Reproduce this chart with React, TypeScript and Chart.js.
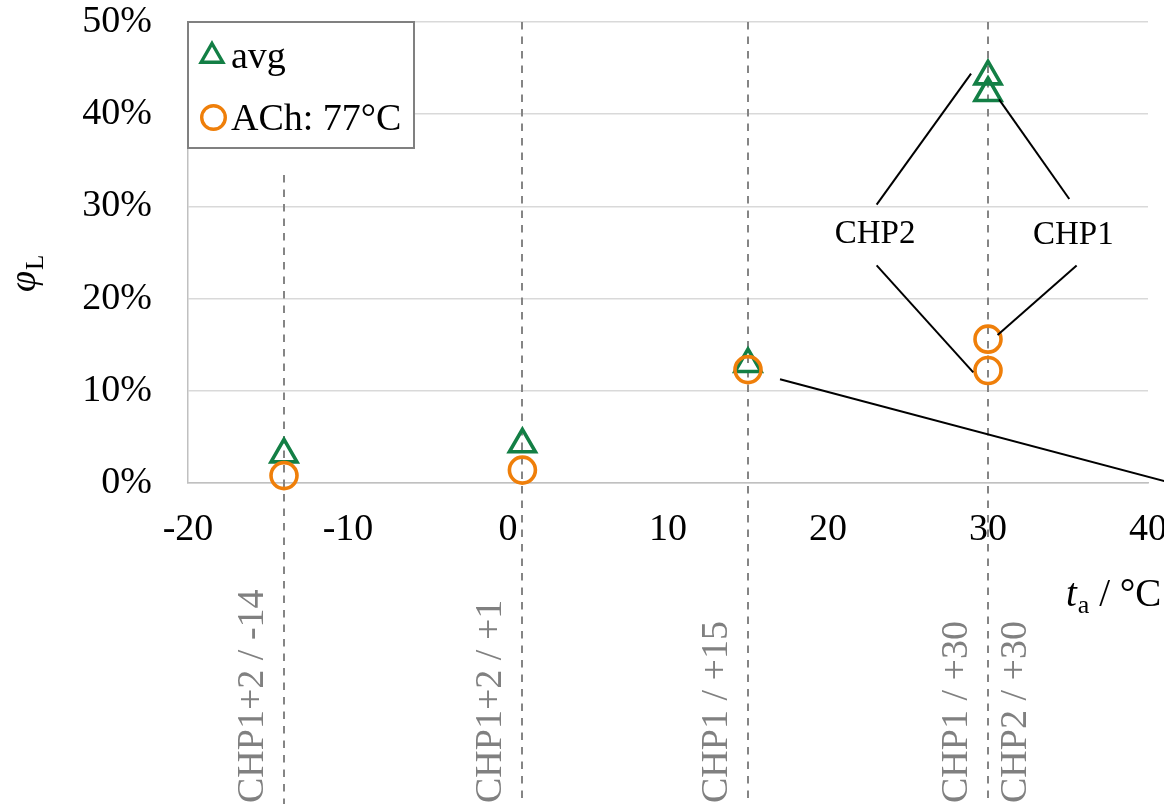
import React, { useEffect, useRef } from 'react';
import { Chart, registerables } from 'chart.js';

Chart.register(...registerables);

const FONT = "'Liberation Serif', 'Times New Roman', serif";
const GREEN = '#137f45';
const ORANGE = '#ef7f0a';
const GUIDE_COLOR = '#858585';
const LABEL_GRAY = '#808080';

// Series data (x = ambient temperature °C, y = φL in %)
const T_AMBIENT = [-14, 0.9, 15, 30, 30];
const AVG_VALUES = [3.1, 4.2, 12.9, 42.3, 44.1];
const ACH_VALUES = [0.8, 1.4, 12.3, 15.6, 12.2];
const SERIES_LABELS = ['avg', 'ACh: 77°C'];

// Axis ranges
const X_MIN = -20;
const X_MAX = 40;
const X_STEP = 10;
const Y_MIN = 0;
const Y_MAX = 50;
const Y_STEP = 10;

// Vertical guide lines (data x) and where they start (data y)
const GUIDE_X = [-14, 0.9, 15, 30];
const GUIDE_TOP = [33.4, 50, 50, 50];

// Rotated guide labels
const GUIDE_LABELS = ['CHP1+2 / -14', 'CHP1+2 / +1', 'CHP1 / +15', 'CHP1 / +30', 'CHP2 / +30'];
const GUIDE_LABEL_X = [-14, 0.9, 15, 30, 30];
const GUIDE_LABEL_SIDE = [-1, -1, -1, -1, 1];

// Leader lines (data coordinates)
const LEADER_X1 = [23.04, 35.08, 23.04, 35.54, 17.0];
const LEADER_Y1 = [30.2, 30.8, 23.6, 23.6, 11.25];
const LEADER_X2 = [28.94, 30.69, 29.08, 30.6, 43.0];
const LEADER_Y2 = [44.4, 41.6, 12.0, 16.05, -0.7];

// Annotation texts (data coordinates)
const NOTE_TEXT = ['CHP2', 'CHP1'];
const NOTE_X = [22.94, 35.33];
const NOTE_Y = [27.0, 26.9];

function drawTriangle(ctx: CanvasRenderingContext2D, x: number, y: number, r: number) {
  let rad = 0;
  ctx.beginPath();
  ctx.moveTo(x + Math.sin(rad) * r, y - Math.cos(rad) * r);
  rad += (2 * Math.PI) / 3;
  ctx.lineTo(x + Math.sin(rad) * r, y - Math.cos(rad) * r);
  rad += (2 * Math.PI) / 3;
  ctx.lineTo(x + Math.sin(rad) * r, y - Math.cos(rad) * r);
  ctx.closePath();
  ctx.stroke();
}

const overlayPlugin = {
  id: 'overlay',
  beforeDatasetsDraw(chart: any) {
    const { ctx, scales, height } = chart;
    const x = scales.x;
    const y = scales.y;
    ctx.save();
    ctx.strokeStyle = GUIDE_COLOR;
    ctx.lineWidth = 2;
    ctx.setLineDash([7.5, 7]);
    GUIDE_X.forEach((gx, i) => {
      const px = Math.round(x.getPixelForValue(gx));
      ctx.beginPath();
      ctx.moveTo(px, y.getPixelForValue(GUIDE_TOP[i]));
      ctx.lineTo(px, height);
      ctx.stroke();
    });
    ctx.restore();
  },
  afterDatasetsDraw(chart: any) {
    const { ctx, scales, height, chartArea } = chart;
    const x = scales.x;
    const y = scales.y;
    ctx.save();

    // guide labels
    ctx.font = `38px ${FONT}`;
    ctx.fillStyle = LABEL_GRAY;
    ctx.textAlign = 'left';
    ctx.textBaseline = 'middle';
    GUIDE_LABELS.forEach((t, i) => {
      const px = x.getPixelForValue(GUIDE_LABEL_X[i]) + (GUIDE_LABEL_SIDE[i] < 0 ? -31 : 28);
      ctx.save();
      ctx.translate(px, height - 1);
      ctx.rotate(-Math.PI / 2);
      ctx.fillText(t, 0, 0);
      ctx.restore();
    });

    // leader lines
    ctx.strokeStyle = '#000';
    ctx.lineWidth = 2;
    ctx.setLineDash([]);
    LEADER_X1.forEach((_, i) => {
      ctx.beginPath();
      ctx.moveTo(x.getPixelForValue(LEADER_X1[i]), y.getPixelForValue(LEADER_Y1[i]));
      ctx.lineTo(x.getPixelForValue(LEADER_X2[i]), y.getPixelForValue(LEADER_Y2[i]));
      ctx.stroke();
    });

    // notes
    ctx.fillStyle = '#000';
    ctx.font = `33px ${FONT}`;
    ctx.textAlign = 'center';
    ctx.textBaseline = 'middle';
    NOTE_TEXT.forEach((t, i) => {
      ctx.fillText(t, x.getPixelForValue(NOTE_X[i]), y.getPixelForValue(NOTE_Y[i]));
    });

    // legend
    const L = chartArea.left;
    const T = chartArea.top;
    ctx.fillStyle = '#fff';
    ctx.fillRect(L, T, 226, 126);
    ctx.strokeStyle = '#808080';
    ctx.lineWidth = 2;
    ctx.strokeRect(L, T, 226, 126);
    ctx.lineWidth = 3.4;
    ctx.strokeStyle = GREEN;
    drawTriangle(ctx, L + 24, T + 34, 12.5);
    ctx.strokeStyle = ORANGE;
    ctx.beginPath();
    ctx.arc(L + 25.5, T + 95.5, 11.8, 0, Math.PI * 2);
    ctx.stroke();
    ctx.fillStyle = '#000';
    ctx.font = `38px ${FONT}`;
    ctx.textAlign = 'left';
    ctx.textBaseline = 'alphabetic';
    ctx.fillText(SERIES_LABELS[0], L + 43, T + 46);
    ctx.fillText(SERIES_LABELS[1], L + 43, T + 108);

    // x axis title: t_a / °C
    let tx = 1066;
    ctx.font = `italic 39px ${FONT}`;
    ctx.fillText('t', tx, 606);
    tx += ctx.measureText('t').width + 1;
    ctx.font = `26px ${FONT}`;
    ctx.fillText('a', tx, 613);
    tx += ctx.measureText('a').width;
    ctx.font = `39px ${FONT}`;
    ctx.fillText(' / °C', tx, 606);

    // y axis title: φ_L (rotated)
    ctx.save();
    ctx.translate(35, 292);
    ctx.rotate(-Math.PI / 2);
    ctx.font = `italic 38px ${FONT}`;
    ctx.fillText('φ', 0, 0);
    const w = ctx.measureText('φ').width;
    ctx.font = `25px ${FONT}`;
    ctx.fillText('L', w + 1, 8);
    ctx.restore();

    ctx.restore();
  },
};

export default function App() {
  const canvasRef = useRef<HTMLCanvasElement | null>(null);

  useEffect(() => {
    document.body.style.margin = '0';
    document.body.style.overflow = 'hidden';
    const canvas = canvasRef.current;
    if (!canvas) return;
    const chart = new Chart(canvas, {
      type: 'scatter',
      data: {
        datasets: [
          {
            label: SERIES_LABELS[0],
            data: T_AMBIENT.map((t, i) => ({ x: t, y: AVG_VALUES[i] })),
            pointStyle: 'triangle',
            pointRadius: 15,
            pointHoverRadius: 15,
            borderColor: GREEN,
            backgroundColor: 'rgba(0,0,0,0)',
            borderWidth: 3.6,
            order: 1,
            clip: false,
          },
          {
            label: SERIES_LABELS[1],
            data: T_AMBIENT.map((t, i) => ({ x: t, y: ACH_VALUES[i] })),
            pointStyle: 'circle',
            pointRadius: 13,
            pointHoverRadius: 13,
            borderColor: ORANGE,
            backgroundColor: 'rgba(0,0,0,0)',
            borderWidth: 3.6,
            order: 0,
            clip: false,
          },
        ],
      },
      options: {
        responsive: false,
        animation: false,
        devicePixelRatio: 1,
        layout: { autoPadding: false, padding: { left: 0, top: 22, right: 16, bottom: 0 } },
        plugins: { legend: { display: false }, tooltip: { enabled: false } },
        scales: {
          x: {
            type: 'linear',
            min: X_MIN,
            max: X_MAX,
            ticks: {
              stepSize: X_STEP,
              font: { family: FONT, size: 38 },
              color: '#000',
              padding: 24,
              maxRotation: 0,
            },
            grid: { display: false, drawTicks: false },
            border: { display: true, color: '#c0c0c0', width: 1.5 },
            afterFit: (s: any) => {
              s.height = 321;
              s.paddingLeft = 0;
              s.paddingRight = 0;
            },
          },
          y: {
            min: Y_MIN,
            max: Y_MAX,
            ticks: {
              stepSize: Y_STEP,
              callback: (v: any) => `${v}%`,
              font: { family: FONT, size: 38 },
              color: '#000',
              padding: 36,
            },
            grid: { color: '#d9d9d9', lineWidth: 1.5, drawTicks: false },
            border: { display: true, color: '#c0c0c0', width: 1.5 },
            afterFit: (s: any) => {
              s.width = 188;
              s.paddingTop = 0;
              s.paddingBottom = 0;
            },
          },
        },
      },
      plugins: [overlayPlugin],
    } as any);
    return () => chart.destroy();
  }, []);

  return (
    <div style={{ width: 1164, height: 804, position: 'relative' }}>
      <canvas ref={canvasRef} width={1164} height={804} style={{ display: 'block' }} />
    </div>
  );
}
